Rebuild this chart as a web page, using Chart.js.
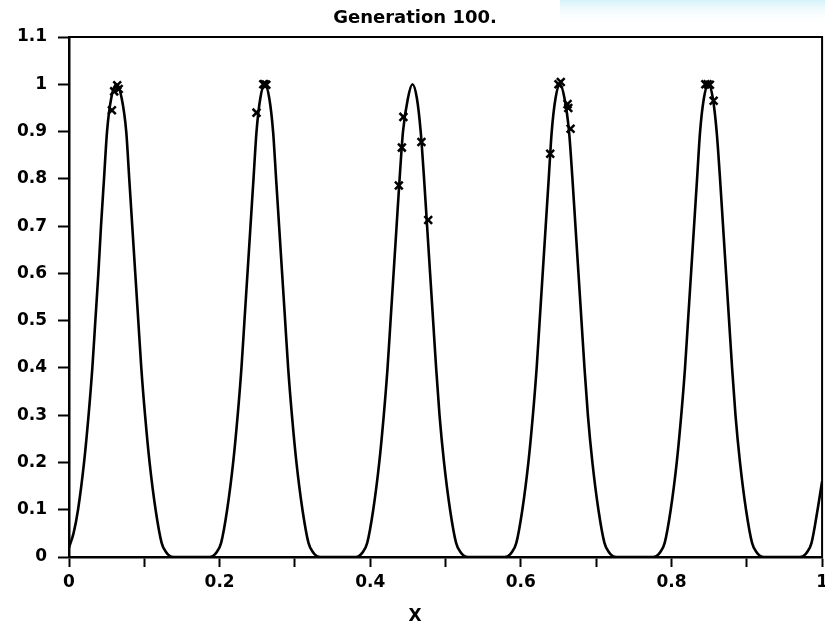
<!DOCTYPE html>
<html>
<head>
<meta charset="utf-8">
<script src="https://cdn.jsdelivr.net/npm/chart.js@4.4.1/dist/chart.umd.min.js"></script>
<style>
  html, body { margin: 0; padding: 0; background: #ffffff; overflow: hidden; }
  #wrap { width: 825px; height: 622px; position: relative; overflow: hidden; }
</style>
</head>
<body>
<div id="wrap"><canvas id="c" width="833" height="622"></canvas></div>
<script>
// ---- data ----
const chartTitle = 'Generation 100.';
const xAxisLabel = 'X';

// fitness curve (x, f(x))
const curveX = [
  0, 0.006, 0.012, 0.020, 0.026, 0.031, 0.035, 0.039, 0.0425, 0.0465, 0.0505, 0.056, 0.063,
  0.070, 0.076, 0.080, 0.084, 0.088, 0.092, 0.096, 0.101, 0.107, 0.115, 0.123, 0.129, 0.134, 0.139,
  0.186, 0.191, 0.196, 0.202, 0.210, 0.218, 0.224, 0.229, 0.233, 0.237, 0.241, 0.245, 0.249, 0.254, 0.260,
  0.266, 0.271, 0.275, 0.279, 0.283, 0.287, 0.291, 0.296, 0.302, 0.310, 0.318, 0.324, 0.329, 0.334,
  0.381, 0.385, 0.390, 0.396, 0.404, 0.412, 0.418, 0.423, 0.427, 0.431, 0.435, 0.439, 0.4435, 0.450, 0.456,
  0.462, 0.467, 0.4715, 0.4755, 0.4795, 0.4835, 0.4875, 0.492, 0.498, 0.506, 0.514, 0.520, 0.525, 0.530,
  0.578, 0.583, 0.588, 0.594, 0.602, 0.610, 0.616, 0.621, 0.625, 0.629, 0.633, 0.637, 0.641, 0.646, 0.652,
  0.658, 0.664, 0.6685, 0.6725, 0.6765, 0.6805, 0.6845, 0.689, 0.695, 0.703, 0.711, 0.717, 0.722, 0.727,
  0.775, 0.780, 0.785, 0.791, 0.799, 0.807, 0.813, 0.818, 0.822, 0.826, 0.830, 0.834, 0.838, 0.843, 0.849,
  0.855, 0.860, 0.8645, 0.8685, 0.8725, 0.8765, 0.8805, 0.885, 0.891, 0.899, 0.907, 0.913, 0.918, 0.923,
  0.970, 0.975, 0.980, 0.986, 0.994, 1.0
];
const curveY = [
  0.02, 0.05, 0.1, 0.2, 0.3, 0.4, 0.5, 0.6, 0.7, 0.8, 0.9, 0.97, 1.0,
  0.97, 0.9, 0.8, 0.7, 0.6, 0.5, 0.4, 0.3, 0.2, 0.1, 0.03, 0.01, 0.002, 0,
  0, 0.002, 0.01, 0.03, 0.1, 0.2, 0.3, 0.4, 0.5, 0.6, 0.7, 0.8, 0.9, 0.97, 1.0,
  0.97, 0.9, 0.8, 0.7, 0.6, 0.5, 0.4, 0.3, 0.2, 0.1, 0.03, 0.01, 0.002, 0,
  0, 0.002, 0.01, 0.03, 0.1, 0.2, 0.3, 0.4, 0.5, 0.6, 0.7, 0.8, 0.9, 0.97, 1.0,
  0.97, 0.9, 0.8, 0.7, 0.6, 0.5, 0.4, 0.3, 0.2, 0.1, 0.03, 0.01, 0.002, 0,
  0, 0.002, 0.01, 0.03, 0.1, 0.2, 0.3, 0.4, 0.5, 0.6, 0.7, 0.8, 0.9, 0.97, 1.0,
  0.97, 0.9, 0.8, 0.7, 0.6, 0.5, 0.4, 0.3, 0.2, 0.1, 0.03, 0.01, 0.002, 0,
  0, 0.002, 0.01, 0.03, 0.1, 0.2, 0.3, 0.4, 0.5, 0.6, 0.7, 0.8, 0.9, 0.97, 1.0,
  0.97, 0.9, 0.8, 0.7, 0.6, 0.5, 0.4, 0.3, 0.2, 0.1, 0.03, 0.01, 0.002, 0,
  0, 0.002, 0.01, 0.03, 0.1, 0.16
];

// population members at generation 100 (x marks)
const popX = [0.057, 0.060, 0.064, 0.066, 0.249, 0.258, 0.260, 0.262,
              0.438, 0.442, 0.444, 0.468, 0.477,
              0.639, 0.650, 0.653, 0.662, 0.663, 0.666,
              0.845, 0.848, 0.851, 0.856];
const popY = [0.945, 0.985, 0.998, 0.990, 0.940, 1.000, 1.000, 0.999,
              0.786, 0.866, 0.931, 0.878, 0.713,
              0.853, 1.000, 1.005, 0.958, 0.950, 0.906,
              1.000, 1.000, 0.999, 0.965];

const xMin = 0, xMax = 1, xStep = 0.1;
const yMin = 0, yMax = 1.1, yStep = 0.1;

// ---- chart ----
const FONT = 'DejaVu Sans';
const curvePts = curveX.map((x, i) => ({ x: x, y: curveY[i] }));
const popPts = popX.map((x, i) => ({ x: x, y: popY[i] }));
const fmt = v => String(Number(v.toFixed(1)));

const framePlugin = {
  id: 'frame',
  beforeDraw(chart) {
    const ctx = chart.ctx;
    ctx.save();
    const g = ctx.createLinearGradient(0, 0, 0, 24);
    g.addColorStop(0, 'rgba(214,242,250,1)');
    g.addColorStop(1, 'rgba(255,255,255,0)');
    ctx.fillStyle = g;
    ctx.fillRect(560, 0, 280, 24);
    ctx.restore();
  },
  afterDatasetsDraw(chart) {
    const a = chart.chartArea, ctx = chart.ctx;
    ctx.save();
    ctx.strokeStyle = '#000';
    ctx.lineWidth = 2;
    ctx.strokeRect(a.left, a.top, a.right - a.left, a.bottom - a.top);
    ctx.restore();
  }
};

new Chart(document.getElementById('c'), {
  type: 'scatter',
  data: {
    datasets: [
      {
        label: 'f(x)',
        data: curvePts,
        showLine: true,
        borderColor: '#000',
        borderWidth: 2.6,
        pointRadius: 0,
        cubicInterpolationMode: 'monotone',
        fill: false,
        order: 2
      },
      {
        label: 'population',
        data: popPts,
        showLine: false,
        pointStyle: 'crossRot',
        pointRadius: 5.5,
        borderColor: '#000',
        backgroundColor: '#000',
        pointBorderWidth: 2.5,
        order: 1
      }
    ]
  },
  options: {
    responsive: false,
    animation: false,
    layout: { padding: { top: 0, right: 3, left: 0, bottom: 0 } },
    plugins: {
      legend: { display: false },
      tooltip: { enabled: false },
      title: {
        display: true,
        text: chartTitle,
        color: '#000',
        font: { family: FONT, size: 18, weight: 'bold', lineHeight: 1.2 },
        padding: { top: 8, bottom: 7.4 }
      },
      subtitle: {
        display: true,
        text: xAxisLabel,
        position: 'bottom',
        color: '#000',
        font: { family: FONT, size: 17, weight: 'bold', lineHeight: 1.0 },
        padding: { top: 13, bottom: -3 }
      }
    },
    scales: {
      x: {
        type: 'linear',
        min: xMin, max: xMax,
        ticks: {
          stepSize: xStep,
          color: '#000',
          font: { family: FONT, size: 17, weight: 'bold' },
          padding: 5,
          maxRotation: 0,
          autoSkip: false,
          callback: v => (Math.round(v * 10) % 2 === 0 ? fmt(v) : '')
        },
        grid: { display: true, drawOnChartArea: false, drawTicks: true, tickLength: 10, tickWidth: 2, tickColor: '#000' },
        border: { display: true, color: '#000', width: 2.5 },
        afterFit(scale) { scale.height = 38; }
      },
      y: {
        type: 'linear',
        min: yMin, max: yMax,
        ticks: {
          stepSize: yStep,
          color: '#000',
          font: { family: FONT, size: 17, weight: 'bold' },
          padding: 11,
          callback: v => fmt(v)
        },
        grid: { display: true, drawOnChartArea: false, drawTicks: true, tickLength: 11, tickWidth: 2, tickColor: '#000' },
        border: { display: true, color: '#000', width: 2.5 },
        afterFit(scale) { scale.width = 69; }
      }
    }
  },
  plugins: [framePlugin]
});
</script>
</body>
</html>
